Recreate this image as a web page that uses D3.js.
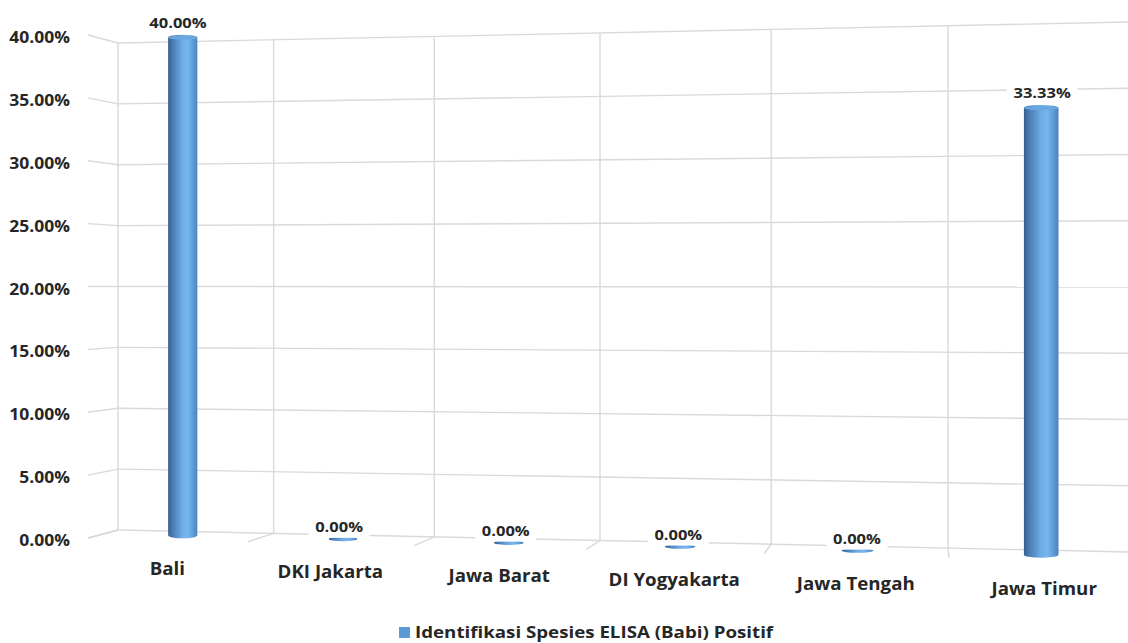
<!DOCTYPE html>
<html><head><meta charset="utf-8">
<script src="https://cdn.jsdelivr.net/npm/d3@7"></script>
<style>
html,body{margin:0;padding:0;background:#fff;}
svg{display:block;font-family:"Open Sans",sans-serif;}
</style></head><body>
<svg id="chart" width="1128" height="643"></svg>
<script>
// ---- data ----
const categories = ["Bali","DKI Jakarta","Jawa Barat","DI Yogyakarta","Jawa Tengah","Jawa Timur"];
const values = [0.40, 0, 0, 0, 0, 0.3333];
const valueLabels = ["40.00%","0.00%","0.00%","0.00%","0.00%","33.33%"];
const yTicks = [0, 0.05, 0.10, 0.15, 0.20, 0.25, 0.30, 0.35, 0.40];
const seriesName = "Identifikasi Spesies ELISA (Babi) Positif";

// ---- scales ----
const xS = d3.scaleBand().domain(categories).range([0, categories.length]);
const vS = d3.scaleLinear().domain([0, 0.40]).range([0, 1]);
const fmt = d3.format(".2%");

// ---- perspective planes (back wall Z=0, front Z=1) ----
const back  = {x0:118, a:151.47, c:-0.01533, base:530, baseSlope:22/1010, span:487, spanSlope:43/1010};
const front = {x0:88,  a:155.9,  c:-0.0172,  base:538, baseSlope:20/861,  span:503, spanSlope:40.6/861};
function planePt(p, X, v){
  const x = (p.a*X + p.x0)/(p.c*X + 1);
  const b = p.base + p.baseSlope*(x - p.x0);
  const s = p.span + p.spanSlope*(x - p.x0);
  return [x, b - s*v];
}
function project(X, v, z){
  const b = planePt(back, X, v), f = planePt(front, X, v);
  return [b[0] + (f[0]-b[0])*z, b[1] + (f[1]-b[1])*z];
}

const svg = d3.select("#chart");
const defs = svg.append("defs");
const grad = defs.append("linearGradient").attr("id","cyl").attr("x1","0").attr("x2","1").attr("y1","0").attr("y2","0");
[["0%","#355f8c"],["12%","#4577ad"],["50%","#6fade8"],["68%","#78b6ef"],["88%","#5b97d2"],["100%","#4a80ba"]]
  .forEach(([o,c]) => grad.append("stop").attr("offset",o).attr("stop-color",c));

// stretched text helper (the reference lettering is horizontally wide)
function label(parent, x, y, anchor, size, sx, str){
  const grp = parent.append("g").attr("transform", `translate(${x},${y}) scale(${sx},1)`);
  const t = grp.append("text").attr("x",0).attr("y",0).attr("text-anchor",anchor)
    .attr("dominant-baseline","central").attr("font-size",size).attr("font-weight",700)
    .attr("fill","#262626").text(str);
  return {grp, t};
}

const gridColor = "#d9d9d9";
const g = svg.append("g");
const nX = categories.length;

// back wall horizontal gridlines + side wall ticks
yTicks.forEach(t => {
  const p0 = project(0, vS(t), 0), p1 = project(nX, vS(t), 0);
  g.append("line").attr("x1",p0[0]).attr("y1",p0[1]).attr("x2",p1[0]).attr("y2",p1[1])
    .attr("stroke",gridColor).attr("stroke-width",1.4);
  const s1 = project(0, vS(t), 1);
  g.append("line").attr("x1",p0[0]).attr("y1",p0[1]).attr("x2",s1[0]).attr("y2",s1[1])
    .attr("stroke",gridColor).attr("stroke-width",1.4);
});
// vertical wall lines & floor lines
d3.range(0, nX+1).forEach(k => {
  const a = project(k, 0, 0), b = project(k, 1, 0), f = project(k, 0, 1);
  g.append("line").attr("x1",a[0]).attr("y1",a[1]).attr("x2",b[0]).attr("y2",b[1])
    .attr("stroke",gridColor).attr("stroke-width",1.4);
  g.append("line").attr("x1",a[0]).attr("y1",a[1]).attr("x2",f[0]).attr("y2",f[1])
    .attr("stroke",gridColor).attr("stroke-width",1.4);
});

// y axis labels
yTicks.forEach(t => {
  const p = project(0, vS(t), 1);
  label(svg, p[0]-18, p[1]+2, "end", 15.5, 1.13, fmt(t));
});

// bars
const zBar = 0.45, halfW = 0.0925;
categories.forEach((c, i) => {
  const Xc = xS(c) + xS.bandwidth()/2;
  const v = vS(values[i]);
  const bot = project(Xc, 0, zBar), top = project(Xc, v, zBar);
  const xl = project(Xc - halfW, 0, zBar)[0], xr = project(Xc + halfW, 0, zBar)[0];
  const rx = (xr - xl)/2, cx = (xl + xr)/2;
  if (values[i] > 0) {
    const ry = 3;
    svg.append("path")
      .attr("d", `M${xl},${top[1]} L${xl},${bot[1]} A${rx},${ry} 0 0 0 ${xr},${bot[1]} L${xr},${top[1]} A${rx},${ry} 0 0 0 ${xl},${top[1]} Z`)
      .attr("fill","url(#cyl)");
    svg.append("ellipse").attr("cx",cx).attr("cy",top[1]).attr("rx",rx).attr("ry",2)
      .attr("fill","#6aa6df");
  } else {
    svg.append("ellipse").attr("cx",cx).attr("cy",bot[1]).attr("rx",rx*0.95).attr("ry",2.3)
      .attr("fill","url(#cyl)");
  }
  // value label with white backing
  const lp = project(Xc, v, 0.62);
  const L = label(svg, lp[0], lp[1]-14, "middle", 15, 1.1, valueLabels[i]);
  const bb = L.t.node().getBBox();
  L.grp.insert("rect", "text").attr("x", bb.x-6).attr("y", bb.y-1).attr("width", bb.width+12)
    .attr("height", bb.height+2).attr("fill","#fff");
  // category label
  const cp = project(Xc, 0, 1);
  label(svg, cp[0], cp[1]+28, "middle", 17, 1.1, c);
});

// legend
const lg = svg.append("g");
lg.append("rect").attr("x",399).attr("y",627).attr("width",11).attr("height",11).attr("fill","#5b9bd5");
label(lg, 415, 632, "start", 16, 1.17, seriesName);
</script>
</body></html>
